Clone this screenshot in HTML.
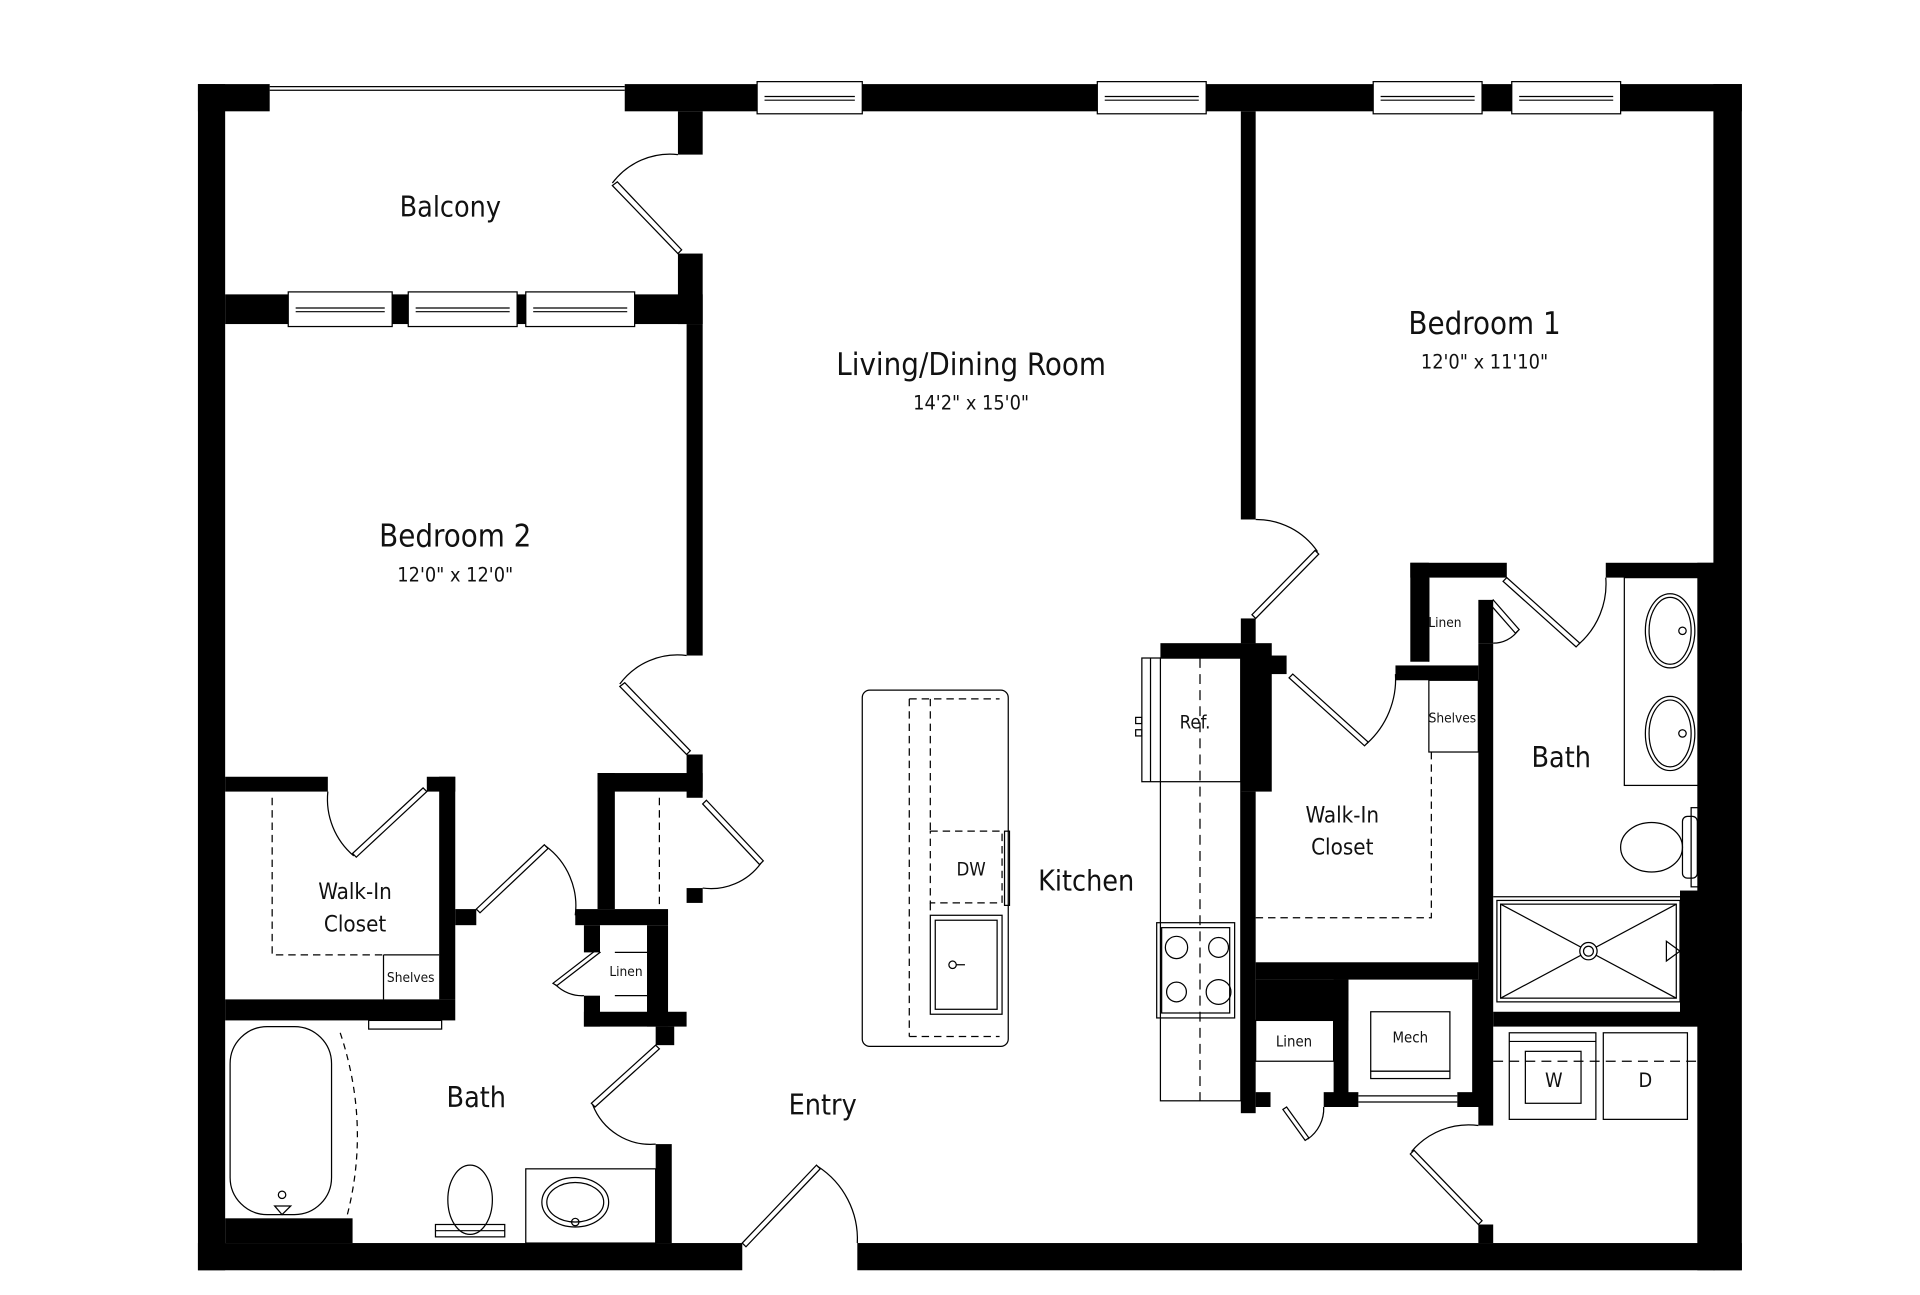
<!DOCTYPE html>
<html><head><meta charset="utf-8"><style>
html,body{margin:0;padding:0;background:#fff;}
svg{display:block;}
text{font-family:"DejaVu Sans Condensed","Liberation Sans",sans-serif;fill:#111;text-anchor:middle;}
</style></head><body>
<svg width="1920" height="1295" viewBox="0 0 1552 1047" preserveAspectRatio="none" xmlns="http://www.w3.org/2000/svg">
<rect width="1552" height="1047" fill="#fff"/>
<g fill="#000">
<!-- outer top wall -->
<rect x="160" y="68" width="58" height="22"/>
<rect x="505" y="68" width="107" height="22"/>
<rect x="697" y="68" width="190" height="22"/>
<rect x="975" y="68" width="135" height="22"/>
<rect x="1198" y="68" width="24" height="22"/>
<rect x="1310" y="68" width="98" height="22"/>
<!-- left wall -->
<rect x="160" y="68" width="22" height="959"/>
<!-- bottom wall -->
<rect x="160" y="1005" width="440" height="22"/>
<rect x="693" y="1005" width="715" height="22"/>
<!-- right wall -->
<rect x="1385" y="68" width="23" height="959"/>
<rect x="1372" y="455" width="14" height="572"/>
<rect x="1358" y="720" width="28" height="110"/>
<rect x="1298" y="455" width="88" height="12"/>
<!-- balcony/bedroom2 wall -->
<rect x="182" y="238" width="51" height="24"/>
<rect x="317" y="238" width="13" height="24"/>
<rect x="418" y="238" width="7" height="24"/>
<rect x="513" y="238" width="55" height="24"/>
<!-- balcony/living wall -->
<rect x="548" y="90" width="20" height="35"/>
<rect x="548" y="205" width="20" height="57"/>
<rect x="555" y="262" width="13" height="268"/>
<rect x="555" y="610" width="13" height="35"/>
<!-- bedroom2 closet -->
<rect x="182" y="628" width="83" height="12"/>
<rect x="345" y="628" width="23" height="12"/>
<rect x="355" y="628" width="13" height="180"/>
<rect x="368" y="735" width="17" height="13"/>
<rect x="182" y="808" width="186" height="17"/>
<!-- linen hall -->
<rect x="483" y="625" width="85" height="15"/>
<rect x="483" y="625" width="14" height="110"/>
<rect x="555" y="718" width="13" height="12"/>
<rect x="465" y="735" width="75" height="13"/>
<rect x="472" y="748" width="13" height="22"/>
<rect x="472" y="805" width="13" height="25"/>
<rect x="523" y="748" width="17" height="82"/>
<rect x="472" y="818" width="83" height="12"/>
<rect x="530" y="830" width="15" height="15"/>
<rect x="530" y="925" width="13" height="80"/>
<rect x="182" y="985" width="103" height="20"/>
<!-- right block -->
<rect x="1003" y="90" width="12" height="330"/>
<rect x="1003" y="500" width="12" height="20"/>
<rect x="938" y="520" width="77" height="12"/>
<rect x="1003" y="520" width="25" height="120"/>
<rect x="1003" y="640" width="12" height="260"/>
<rect x="1015" y="530" width="25" height="15"/>
<rect x="1128" y="538" width="67" height="12"/>
<rect x="1140" y="455" width="15" height="80"/>
<rect x="1140" y="455" width="78" height="12"/>
<rect x="1195" y="485" width="12" height="35"/>
<rect x="1195" y="520" width="12" height="390"/>
<rect x="1015" y="778" width="180" height="14"/>
<rect x="1015" y="792" width="75" height="33"/>
<rect x="1078" y="792" width="12" height="103"/>
<rect x="1190" y="792" width="8" height="103"/>
<rect x="1015" y="883" width="12" height="12"/>
<rect x="1070" y="883" width="28" height="12"/>
<rect x="1178" y="883" width="20" height="12"/>
<rect x="1195" y="990" width="12" height="15"/>
<rect x="1207" y="818" width="178" height="12"/>
</g>
<g fill="none" stroke="#000" stroke-width="1">
<!-- balcony opening line -->
<line x1="218" y1="70" x2="505" y2="70"/><line x1="218" y1="73" x2="505" y2="73"/>
<!-- windows -->
<g>
<rect x="612" y="66" width="85" height="26"/><line x1="618" y1="78" x2="691" y2="78"/><line x1="618" y1="81" x2="691" y2="81"/>
<rect x="887" y="66" width="88" height="26"/><line x1="893" y1="78" x2="969" y2="78"/><line x1="893" y1="81" x2="969" y2="81"/>
<rect x="1110" y="66" width="88" height="26"/><line x1="1116" y1="78" x2="1192" y2="78"/><line x1="1116" y1="81" x2="1192" y2="81"/>
<rect x="1222" y="66" width="88" height="26"/><line x1="1228" y1="78" x2="1304" y2="78"/><line x1="1228" y1="81" x2="1304" y2="81"/>
<rect x="233" y="236" width="84" height="28"/><line x1="239" y1="249" x2="311" y2="249"/><line x1="239" y1="252" x2="311" y2="252"/>
<rect x="330" y="236" width="88" height="28"/><line x1="336" y1="249" x2="412" y2="249"/><line x1="336" y1="252" x2="412" y2="252"/>
<rect x="425" y="236" width="88" height="28"/><line x1="431" y1="249" x2="507" y2="249"/><line x1="431" y1="252" x2="507" y2="252"/>
<rect x="298" y="825" width="59" height="7"/>
</g>
<!-- doors -->
<polygon points="548,205 551,202 499,147 495,150"/><path d="M495,148 A58,58 0 0 1 548,125"/>
<polygon points="555,610 558,607 505,552 501,555"/><path d="M501,553 A58,58 0 0 1 555,530"/>
<polygon points="568,650 571,647 617,696 614,699"/><path d="M615,698 A50,50 0 0 1 568,718"/>
<polygon points="345,640 342,637 285,690 288,693"/><path d="M286,692 A60,60 0 0 1 265,640"/>
<polygon points="385,735 388,738 443,686 440,683"/><path d="M441,684 A60,60 0 0 1 465,740"/>
<polygon points="485,770 482,768 447,795 450,797"/><path d="M449,796 A30,30 0 0 0 472,805"/>
<polygon points="530,845 533,848 481,895 478,892"/><path d="M479,893 A50,50 0 0 0 530,925"/>
<polygon points="600,1005 603,1008 663,945 660,942"/><path d="M661,943 A70,70 0 0 1 693,1005"/>
<polygon points="1015,500 1012,497 1063,445 1066,448"/><path d="M1065,446 A60,60 0 0 0 1015,420"/>
<polygon points="1045,545 1042,548 1103,603 1106,600"/><path d="M1105,601 A70,70 0 0 0 1128,545"/>
<polygon points="1218,467 1215,470 1274,523 1277,520"/><path d="M1276,521 A65,65 0 0 0 1298,467"/>
<polygon points="1207,485 1204,488 1225,512 1228,509"/><path d="M1227,510 A25,25 0 0 1 1207,520"/>
<polygon points="1040,895 1037,897 1055,922 1058,920"/><path d="M1057,921 A30,30 0 0 0 1070,895"/>
<polygon points="1195,990 1198,987 1143,930 1140,933"/><path d="M1141,931 A60,60 0 0 1 1195,910"/>
<line x1="1098" y1="886" x2="1178" y2="886"/><line x1="1098" y1="891" x2="1178" y2="891"/>
<!-- bedroom2 closet dashes -->
<path d="M220,645 V772 H310" stroke-dasharray="6,4"/>
<line x1="310" y1="772" x2="355" y2="772"/><line x1="310" y1="772" x2="310" y2="808"/>
<line x1="533" y1="645" x2="533" y2="735" stroke-dasharray="6,4"/>
<line x1="497" y1="770" x2="523" y2="770"/><line x1="497" y1="805" x2="523" y2="805"/>
<!-- tub -->
<rect x="186" y="830" width="82" height="152" rx="30"/>
<path d="M275,835 Q300,910 280,985" stroke-dasharray="5,4"/>
<path d="M222,975 L235,975 L228,982 Z"/><circle cx="228" cy="966" r="3"/>
<!-- toilet2 -->
<ellipse cx="380" cy="970" rx="18" ry="28"/><rect x="352" y="990" width="56" height="10"/><line x1="352" y1="995" x2="408" y2="995"/>
<!-- vanity2 -->
<rect x="425" y="945" width="105" height="60"/><ellipse cx="465" cy="972" rx="27" ry="20"/><ellipse cx="465" cy="972" rx="23" ry="16"/><circle cx="465" cy="988" r="3"/>
<!-- island -->
<rect x="697" y="558" width="118" height="288" rx="6"/>
<path d="M735,565 H808 M735,838 H808 M735,565 V838" stroke-dasharray="6,4"/>
<path d="M752,565 V672 M752,730 V740" stroke-dasharray="6,4"/>
<rect x="752" y="672" width="58" height="58" stroke-dasharray="6,4"/>
<rect x="812" y="672" width="4" height="60"/>
<rect x="752" y="740" width="58" height="80"/><rect x="756" y="744" width="50" height="72"/>
<circle cx="770" cy="780" r="3"/><line x1="773" y1="780" x2="780" y2="780"/>
<!-- counter -->
<rect x="938" y="532" width="65" height="358"/>
<line x1="970" y1="532" x2="970" y2="890" stroke-dasharray="8,5"/>
<rect x="923" y="532" width="80" height="100"/><line x1="930" y1="532" x2="930" y2="632"/>
<rect x="918" y="580" width="5" height="5"/><rect x="918" y="590" width="5" height="5"/>
<rect x="935" y="746" width="63" height="77"/><rect x="939" y="750" width="55" height="69"/>
<circle cx="951" cy="766" r="9"/><circle cx="985" cy="766" r="8"/><circle cx="951" cy="802" r="8"/><circle cx="985" cy="802" r="10"/>
<!-- closet1 -->
<line x1="1155" y1="467" x2="1155" y2="535"/>
<rect x="1155" y="550" width="40" height="58"/>
<path d="M1015,742 H1157 V608" stroke-dasharray="6,4"/>
<rect x="1015" y="825" width="63" height="33"/>
<rect x="1108" y="818" width="64" height="48"/><rect x="1108" y="866" width="64" height="6"/>
<!-- bath1 -->
<rect x="1313" y="467" width="62" height="168"/>
<ellipse cx="1350" cy="510" rx="20" ry="30"/><ellipse cx="1350" cy="510" rx="17" ry="27"/>
<ellipse cx="1350" cy="593" rx="20" ry="30"/><ellipse cx="1350" cy="593" rx="17" ry="27"/>
<circle cx="1360" cy="510" r="3"/><circle cx="1360" cy="593" r="3"/>
<ellipse cx="1335" cy="685" rx="25" ry="20"/><rect x="1360" y="660" width="12" height="50" rx="4"/><rect x="1367" y="653" width="6" height="64"/>
<line x1="1207" y1="725" x2="1358" y2="725"/>
<rect x="1210" y="728" width="148" height="82"/><rect x="1213" y="731" width="142" height="76"/>
<line x1="1213" y1="731" x2="1355" y2="807"/><line x1="1355" y1="731" x2="1213" y2="807"/>
<circle cx="1284" cy="769" r="7" fill="#fff"/><circle cx="1284" cy="769" r="4"/>
<path d="M1347,761 L1358,769 L1347,777 Z"/>
<!-- laundry -->
<line x1="1207" y1="858" x2="1385" y2="858" stroke-dasharray="8,5"/>
<rect x="1220" y="835" width="70" height="70"/><line x1="1220" y1="842" x2="1290" y2="842"/>
<rect x="1233" y="850" width="45" height="42"/>
<rect x="1296" y="835" width="68" height="70"/>
</g>
<text x="364" y="175" font-size="23">Balcony</text>
<text x="785" y="303" font-size="25">Living/Dining Room</text>
<text x="785" y="331" font-size="16">14'2" x 15'0"</text>
<text x="1200" y="270" font-size="25">Bedroom 1</text>
<text x="1200" y="298" font-size="16">12'0" x 11'10"</text>
<text x="368" y="442" font-size="25">Bedroom 2</text>
<text x="368" y="470" font-size="16">12'0" x 12'0"</text>
<text x="287" y="727" font-size="18">Walk-In</text>
<text x="287" y="753" font-size="18">Closet</text>
<text x="332" y="794" font-size="11">Shelves</text>
<text x="506" y="789" font-size="11">Linen</text>
<text x="385" y="895" font-size="23">Bath</text>
<text x="665" y="901" font-size="23">Entry</text>
<text x="878" y="720" font-size="23">Kitchen</text>
<text x="785" y="708" font-size="15">DW</text>
<text x="966" y="589" font-size="15">Ref.</text>
<text x="1085" y="665" font-size="18">Walk-In</text>
<text x="1085" y="691" font-size="18">Closet</text>
<text x="1174" y="584" font-size="11">Shelves</text>
<text x="1168" y="507" font-size="11">Linen</text>
<text x="1262" y="620" font-size="23">Bath</text>
<text x="1046" y="846" font-size="12">Linen</text>
<text x="1140" y="843" font-size="12">Mech</text>
<text x="1256" y="879" font-size="16">W</text>
<text x="1330" y="879" font-size="16">D</text>
</svg>
</body></html>
